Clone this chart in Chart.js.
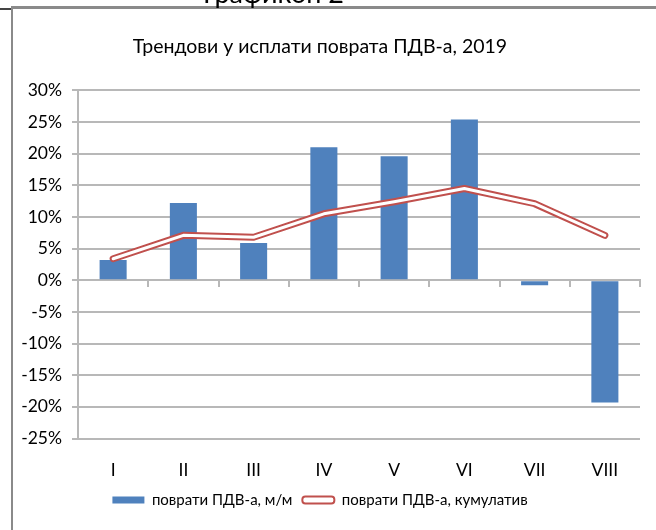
<!DOCTYPE html>
<html>
<head>
<meta charset="utf-8">
<script src="https://cdn.jsdelivr.net/npm/chart.js@4/dist/chart.umd.min.js"></script>
<style>
  html, body { margin:0; padding:0; background:#fff; }
  #wrap { position:relative; width:656px; height:530px; overflow:hidden; }
  #chart { position:absolute; left:0; top:0; }
  .frame { position:absolute; z-index:2; }
  #caption { position:absolute; left:203px; top:-21px; font-family:Lato, sans-serif; font-size:27px; line-height:27px; color:#000; white-space:nowrap; z-index:3; }
</style>
</head>
<body>
<div id="wrap">
  <div id="caption">Графикон 2</div>
  <div class="frame" style="left:11px;top:6px;width:645px;height:3px;background:#8a8a8a;"></div>
  <div class="frame" style="left:11px;top:6px;width:2px;height:524px;background:#8a8a8a;"></div>
  <div class="frame" style="left:0;top:8px;width:11px;height:2px;background:#444;"></div>
  <canvas id="chart" width="656" height="530"></canvas>
</div>
<script>
const MONTHS = ['I','II','III','IV','V','VI','VII','VIII'];
const MONTHLY = [3.2, 12.2, 5.9, 21.0, 19.6, 25.4, -0.8, -19.3];
const CUMULATIVE = [3.4, 7.1, 6.8, 10.5, 12.4, 14.5, 12.1, 7.1];
const Y_MIN = -25, Y_MAX = 30, Y_STEP = 5;

const BLUE = '#4f81bd';
const RED = '#c0504d';
const GRID = '#b8b8b8';
const INK = '#000';
const FONT = 'Lato, "Noto Sans", sans-serif';

new Chart(document.getElementById('chart'), {
  type: 'bar',
  data: {
    labels: MONTHS,
    datasets: [
      { type:'bar', label:'поврати ПДВ-а, м/м', data:MONTHLY, backgroundColor:BLUE, borderWidth:0,
        barPercentage:0.385, categoryPercentage:1, order:3 },
      { type:'line', label:'поврати ПДВ-а, кумулатив', data:CUMULATIVE, borderColor:RED, backgroundColor:'#fff',
        borderWidth:7, pointRadius:0, tension:0, borderCapStyle:'round', borderJoinStyle:'round', order:2 },
      { type:'line', label:'_inner', data:CUMULATIVE, borderColor:'#fff', backgroundColor:'#fff',
        borderWidth:3, pointRadius:0, tension:0, borderCapStyle:'round', borderJoinStyle:'round', order:1 },
    ],
  },
  options: {
    responsive:false, animation:false,
    layout:{ padding:{ left:0, right:16, top:0, bottom:12.5 } },
    plugins:{
      title:{ display:true, text:'Трендови у исплати поврата ПДВ-а, 2019', color:INK,
        font:{ family:FONT, size:19.5, weight:'normal' }, padding:{ top:35, bottom:32 } },
      legend:{ position:'bottom',
        labels:{ color:INK, font:{ family:FONT, size:15 }, boxWidth:32, boxHeight:7, padding:10,
          useBorderRadius:true,
          filter: item => item.text !== '_inner',
          sort: (a, b) => a.datasetIndex - b.datasetIndex,
          generateLabels(chart) {
            return Chart.defaults.plugins.legend.labels.generateLabels(chart).map(it => {
              if (it.datasetIndex === 1) { it.lineWidth = 2; it.fillStyle = '#fff'; it.strokeStyle = RED; it.borderRadius = 3; }
              else { it.lineWidth = 0; it.borderRadius = 0; }
              return it;
            });
          } } },
      tooltip:{ enabled:false },
    },
    scales:{
      x:{ type:'category', offset:true, grid:{ display:false, drawTicks:false }, border:{ display:false },
        ticks:{ color:INK, font:{ family:FONT, size:17.5 }, padding:21 },
        afterFit(s) { s.height = 44; } },
      x2:{ type:'category', labels:MONTHS, position:{ y:0 }, offset:true,
        grid:{ offset:true, drawOnChartArea:false, drawTicks:true, tickLength:6, color:GRID, lineWidth:2 },
        border:{ display:true, color:GRID, width:2 }, ticks:{ display:false } },
      y:{ min:Y_MIN, max:Y_MAX, ticks:{ stepSize:Y_STEP, color:INK, font:{ family:FONT, size:17.5 }, padding:10,
          callback:v => v + '%' },
        grid:{ color:GRID, lineWidth:2, tickLength:6 }, border:{ color:GRID, width:2 },
        afterFit(s) { s.width = 78; } },
    },
  },
});
</script>
</body>
</html>
